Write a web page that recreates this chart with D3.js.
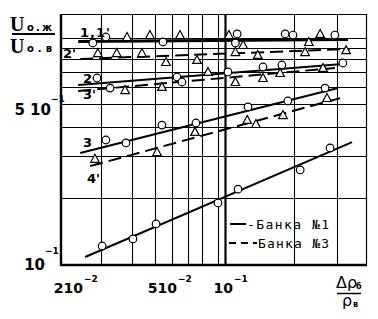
<!DOCTYPE html>
<html><head><meta charset="utf-8">
<script src="https://cdn.jsdelivr.net/npm/d3@7/dist/d3.min.js"></script>
<style>body{margin:0;background:#fff}svg{display:block}</style>
</head><body>
<svg id="c" width="378" height="319"></svg>
<script>
// ---------- data ----------
const xGrid = [0.02, 0.03, 0.04, 0.05, 0.06, 0.07, 0.09, 0.1, 0.2, 0.3];
const yGrid = [0.2, 0.3, 0.4, 0.5, 0.6, 0.7, 0.8, 0.9, 1.0];
const xTickValues = [0.02, 0.05, 0.1];
const xTickMantissa = ["210", "510", "10"];
const xTickExp = ["−2", "−2", "−1"];
const yTickValues = [0.5, 0.1];
const yTickMantissa = ["5 10", "10"];
const yTickExp = ["−1", "−1"];

// fitted lines (bank 1 = solid, bank 3 = dashed)
const lineNames = ["1,1'", "2'", "2", "3'", "3", "4'", ""];
const lineBank  = [1, 3, 1, 3, 1, 3, 1];
const lineX = [[0.0149, 0.333], [0.0153, 0.339], [0.0149, 0.317], [0.0149, 0.294], [0.0153, 0.303], [0.0174, 0.309], [0.0163, 0.346]];
const lineY = [[0.964, 0.984], [0.802, 0.891], [0.610, 0.761], [0.573, 0.730], [0.310, 0.591], [0.273, 0.532], [0.1086, 0.345]];

// measured points, Банка №1 (circles)
const circleX = [0.0180, 0.0213, 0.0445, 0.113, 0.111, 0.183, 0.198, 0.294,
                 0.0190, 0.0225, 0.0529, 0.0559, 0.103, 0.1465, 0.177, 0.317,
                 0.0213, 0.0276, 0.0439, 0.0654, 0.126, 0.188, 0.268,
                 0.0203, 0.0302, 0.0407, 0.0897, 0.114, 0.212, 0.281];
const circleY = [0.949, 1.011, 0.959, 1.045, 0.949, 1.045, 1.033, 1.033,
                 0.657, 0.591, 0.664, 0.630, 0.700, 0.7375, 0.753, 0.769,
                 0.352, 0.342, 0.407, 0.4155, 0.486, 0.516, 0.591,
                 0.1217, 0.131, 0.153, 0.190, 0.218, 0.263, 0.326];
// measured points, Банка №3 (triangles)
const triX = [0.028, 0.0376, 0.0547, 0.104, 0.120, 0.230, 0.256,
              0.0192, 0.0245, 0.0339, 0.0463, 0.0662, 0.111, 0.139, 0.222, 0.327,
              0.0273, 0.0439, 0.0768, 0.111, 0.1465, 0.174, 0.263,
              0.0185, 0.0412, 0.0647, 0.125, 0.1365, 0.179, 0.273];
const triY = [1.011, 1.033, 1.033, 1.033, 0.929, 0.959, 1.045,
              0.854, 0.854, 0.854, 0.777, 0.794, 0.863, 0.837, 0.863, 0.880,
              0.579, 0.598, 0.700, 0.630, 0.657, 0.6925, 0.730,
              0.293, 0.313, 0.381, 0.428, 0.4115, 0.449, 0.5325];
const legendLabels = ["-Банка №1", "Банка №3"];

// ---------- layout ----------
const svg = d3.select("#c");
const x = d3.scaleLog()
  .domain([0.01193, 0.02, 0.05, 0.07, 0.1, 0.2, 0.3, 0.3945])
  .range([61, 101, 172, 202, 225, 294, 337, 366]);
const y = d3.scaleLog()
  .domain([0.1, 0.2, 0.5, 1.0, 1.3])
  .range([265, 198, 104, 38, 14]);
const X0 = x.range()[0], X1 = x.range()[x.range().length - 1];
const Y0 = y.range()[0], Y1 = y.range()[y.range().length - 1];

const g = svg.append("g");
// grid
g.selectAll("line.vg").data(xGrid).join("line")
  .attr("x1", d => Math.round(x(d)) + 0.5).attr("x2", d => Math.round(x(d)) + 0.5)
  .attr("y1", Y1).attr("y2", Y0)
  .attr("stroke", "#000").attr("stroke-width", d => d === 0.1 ? 2.2 : 1.1);
g.selectAll("line.hg").data(yGrid).join("line")
  .attr("y1", d => Math.round(y(d)) + 0.5).attr("y2", d => Math.round(y(d)) + 0.5)
  .attr("x1", X0).attr("x2", X1)
  .attr("stroke", "#000").attr("stroke-width", 1.1);
// frame
g.append("line").attr("x1", X0).attr("x2", X1).attr("y1", Y1 + 0.5).attr("y2", Y1 + 0.5).attr("stroke", "#000").attr("stroke-width", 1.2);
g.append("line").attr("x1", X1 + 0.5).attr("x2", X1 + 0.5).attr("y1", Y1).attr("y2", Y0).attr("stroke", "#000").attr("stroke-width", 1.2);
g.append("line").attr("x1", X0).attr("x2", X0).attr("y1", Y1).attr("y2", Y0 + 1).attr("stroke", "#000").attr("stroke-width", 2.4);
g.append("line").attr("x1", X0 - 1).attr("x2", X1 + 1).attr("y1", Y0).attr("y2", Y0).attr("stroke", "#000").attr("stroke-width", 2.4);

// fitted lines
const line = d3.line().x(d => x(d[0])).y(d => y(d[1]));
lineX.forEach((xs, i) => {
  const pts = xs.map((v, k) => [v, lineY[i][k]]);
  g.append("path").attr("d", line(pts)).attr("fill", "none").attr("stroke", "#000")
    .attr("stroke-width", i === 0 ? 3 : 2)
    .attr("stroke-dasharray", lineBank[i] === 3 ? "13,6" : null);
});

// markers
g.selectAll("circle.m").data(circleX.map((v, i) => [v, circleY[i]])).join("circle")
  .attr("cx", d => x(d[0])).attr("cy", d => y(d[1])).attr("r", 3.8)
  .attr("fill", "#fff").attr("stroke", "#000").attr("stroke-width", 1.2);
g.selectAll("path.t").data(triX.map((v, i) => [v, triY[i]])).join("path")
  .attr("d", "M0,-4.5L4.3,3.5L-4.3,3.5Z")
  .attr("transform", d => `translate(${x(d[0])},${y(d[1])})`)
  .attr("fill", "#fff").attr("stroke", "#000").attr("stroke-width", 1.2);

// series labels
const lblPos = [[80, 37], [63, 58], [83, 83], [83, 99], [83, 147], [87, 183]];
lineNames.forEach((n, i) => {
  if (!n) return;
  g.append("text").attr("x", lblPos[i][0]).attr("y", lblPos[i][1]).text(n)
    .attr("font-family", "DejaVu Sans").attr("font-weight", "bold").attr("font-size", 13)
    .attr("letter-spacing", n.length > 2 ? 1 : 0);
});

// x tick labels
const xEndOff = [-18, 5, 8];
xTickValues.forEach((v, i) => {
  const ex = x(v) + xEndOff[i];
  g.append("text").attr("x", ex).attr("y", 293).attr("text-anchor", "end").text(xTickMantissa[i])
    .attr("font-family", "DejaVu Sans").attr("font-weight", "bold").attr("font-size", 14);
  g.append("text").attr("x", ex + 1).attr("y", 282).text(xTickExp[i])
    .attr("font-family", "DejaVu Sans").attr("font-weight", "bold").attr("font-size", 9);
});
// y tick labels
const yEnd = [51, 45], yBaseOff = [11, 5], yExpX = [51, 45], yExpBase = [102, 254];
yTickValues.forEach((v, i) => {
  g.append("text").attr("x", yEnd[i]).attr("y", y(v) + yBaseOff[i])
    .attr("text-anchor", "end").text(yTickMantissa[i])
    .attr("font-family", "DejaVu Sans").attr("font-weight", "bold").attr("font-size", 15);
  g.append("text").attr("x", yExpX[i]).attr("y", yExpBase[i]).text(yTickExp[i])
    .attr("font-family", "DejaVu Sans").attr("font-weight", "bold").attr("font-size", 9);
});

// y title
const t = svg.append("g").attr("font-weight", "bold").attr("fill", "#000");
t.append("text").attr("x", 10).attr("y", 31).text("U").attr("font-family", "Liberation Serif").attr("font-size", 20);
t.append("text").attr("x", 27).attr("y", 31).text("о.ж").attr("font-family", "DejaVu Sans").attr("font-size", 10)
  .attr("textLength", 25).attr("lengthAdjust", "spacing");
t.append("line").attr("x1", 12).attr("x2", 55).attr("y1", 34).attr("y2", 34).attr("stroke", "#000").attr("stroke-width", 2);
t.append("text").attr("x", 10).attr("y", 53).text("U").attr("font-family", "Liberation Serif").attr("font-size", 20);
t.append("text").attr("x", 27).attr("y", 52).text("о.в").attr("font-family", "DejaVu Sans").attr("font-size", 10)
  .attr("textLength", 25).attr("lengthAdjust", "spacing");

// x title
const xt = svg.append("g").attr("font-family", "DejaVu Sans").attr("fill", "#000");
xt.append("text").attr("x", 336).attr("y", 288).text("Δρ").attr("font-size", 16);
xt.append("text").attr("x", 356).attr("y", 289).text("б").attr("font-size", 8).attr("font-weight", "bold");
xt.append("line").attr("x1", 337).attr("x2", 361).attr("y1", 293.5).attr("y2", 293.5).attr("stroke", "#000").attr("stroke-width", 1.5);
xt.append("text").attr("x", 342).attr("y", 306).text("ρ").attr("font-size", 16);
xt.append("text").attr("x", 353).attr("y", 307).text("в").attr("font-size", 8).attr("font-weight", "bold");

// legend
const lg = svg.append("g");
lg.append("line").attr("x1", 230).attr("x2", 246).attr("y1", 224).attr("y2", 224).attr("stroke", "#000").attr("stroke-width", 2);
lg.append("line").attr("x1", 229).attr("x2", 257).attr("y1", 243).attr("y2", 243).attr("stroke", "#000").attr("stroke-width", 2).attr("stroke-dasharray", "7,5");
lg.append("text").attr("x", 247).attr("y", 229).text(legendLabels[0])
  .attr("font-family", "DejaVu Sans Mono").attr("font-size", 13).attr("textLength", 82).attr("lengthAdjust", "spacing");
lg.append("text").attr("x", 258).attr("y", 248).text(legendLabels[1])
  .attr("font-family", "DejaVu Sans Mono").attr("font-size", 13).attr("textLength", 71).attr("lengthAdjust", "spacing");
</script>
</body></html>
